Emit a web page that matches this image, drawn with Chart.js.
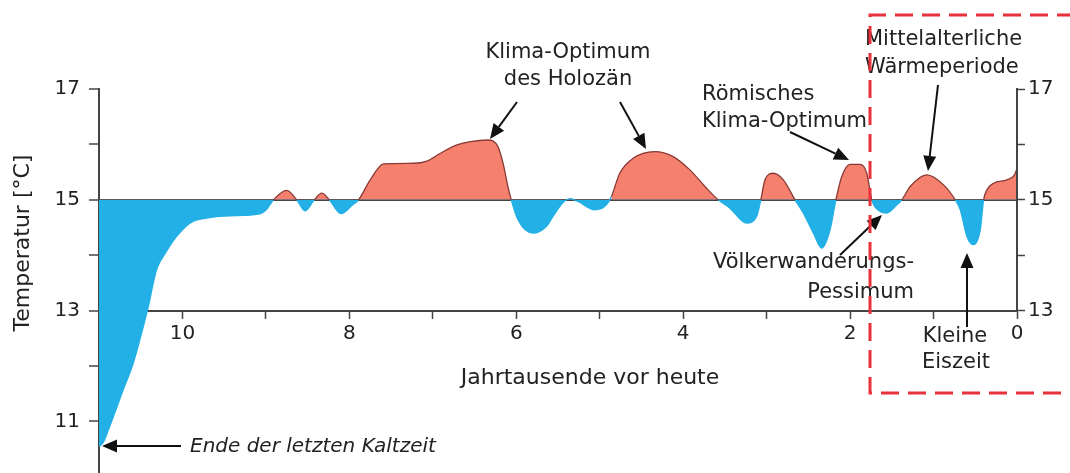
<!DOCTYPE html>
<html>
<head>
<meta charset="utf-8">
<script src="https://cdn.jsdelivr.net/npm/chart.js@4.4.1/dist/chart.umd.min.js"></script>
<style>
  html, body { margin: 0; padding: 0; background: #fff; }
  #wrap { width: 1070px; height: 473px; }
</style>
</head>
<body>
<div id="wrap"><canvas id="holozaen" width="1070" height="473"></canvas></div>
<script>
// Jahrtausende vor heute (x) und Temperatur in °C (y)
const kaVorHeute = [
  11.0, 10.95, 10.87, 10.71, 10.59, 10.47, 10.41, 10.31, 10.2, 10.07,
  9.91, 9.71, 9.43, 9.09, 8.99, 8.91, 8.75, 8.63, 8.53, 8.42,
  8.33, 8.24, 8.1, 7.96, 7.89, 7.75, 7.59, 7.23, 7.07, 6.91,
  6.71, 6.55, 6.34, 6.22, 6.16, 6.1, 6.06, 5.98, 5.8, 5.64,
  5.56, 5.44, 5.35, 5.26, 5.06, 4.92, 4.86, 4.76, 4.6, 4.34,
  4.12, 3.92, 3.72, 3.58, 3.44, 3.24, 3.12, 3.07, 3.02, 2.92,
  2.8, 2.66, 2.56, 2.44, 2.34, 2.24, 2.17, 2.1, 2.0, 1.88,
  1.8, 1.74, 1.64, 1.56, 1.44, 1.38, 1.28, 1.08, 0.88, 0.74,
  0.68, 0.6, 0.52, 0.44, 0.4, 0.36, 0.28, 0.12, 0.03, 0.0
];
const temperatur = [
  10.55, 10.62, 10.92, 11.57, 12.05, 12.71, 13.07, 13.74, 14.05, 14.34,
  14.58, 14.67, 14.71, 14.74, 14.83, 15.0, 15.17, 15.0, 14.8, 15.0,
  15.12, 15.0, 14.75, 14.91, 15.0, 15.36, 15.65, 15.66, 15.7, 15.84,
  15.99, 16.05, 16.08, 15.96, 15.67, 15.24, 15.0, 14.64, 14.4, 14.52,
  14.7, 14.95, 15.02, 14.97, 14.82, 14.91, 15.06, 15.48, 15.75, 15.87,
  15.78, 15.54, 15.21, 15.0, 14.85, 14.58, 14.7, 15.0, 15.36, 15.48,
  15.36, 15.0, 14.76, 14.4, 14.13, 14.46, 15.0, 15.42, 15.64, 15.64,
  15.48, 15.0, 14.79, 14.76, 14.91, 15.0, 15.24, 15.45, 15.27, 15.0,
  14.82, 14.34, 14.19, 14.46, 15.0, 15.18, 15.3, 15.36, 15.45, 15.57
];
const xTickLabels = [10, 8, 6, 4, 2, 0];
const yTickLabels = [11, 13, 15, 17];
const yRechtsLabels = [13, 15, 17];
const referenzwert = 15;

const ROT = '#F5806E';
const BLAU = '#22B0E6';
const KANTE = '#8a3a35';
const ACHSE = '#444';
const TEXT = '#222';
const FONT = '"DejaVu Sans", sans-serif';

const punkte = kaVorHeute.map((x, i) => ({ x: x, y: temperatur[i] }));

function pfeil(ctx, x1, y1, x2, y2) {
  const a = Math.atan2(y2 - y1, x2 - x1);
  const len = 15, halb = 6.5;
  const bx = x2 - len * Math.cos(a), by = y2 - len * Math.sin(a);
  ctx.beginPath();
  ctx.moveTo(x1, y1);
  ctx.lineTo(bx, by);
  ctx.lineWidth = 2;
  ctx.strokeStyle = '#111';
  ctx.stroke();
  ctx.beginPath();
  ctx.moveTo(x2, y2);
  ctx.lineTo(bx + halb * Math.sin(a), by - halb * Math.cos(a));
  ctx.lineTo(bx - halb * Math.sin(a), by + halb * Math.cos(a));
  ctx.closePath();
  ctx.fillStyle = '#111';
  ctx.fill();
}

function text(ctx, s, x, y, align, italic) {
  ctx.font = italic ? 'italic 20px ' + FONT : '21px ' + FONT;
  ctx.fillStyle = TEXT;
  ctx.textAlign = align;
  ctx.textBaseline = 'middle';
  ctx.fillText(s, x, y);
}

const beschriftung = {
  id: 'beschriftung',
  afterDraw(chart) {
    const ctx = chart.ctx;
    const yR = chart.scales.yR;
    ctx.save();

    // rechte Achse nur von 17 bis 13
    ctx.beginPath();
    ctx.moveTo(chart.chartArea.right, yR.getPixelForValue(17) - 1);
    ctx.lineTo(chart.chartArea.right, yR.getPixelForValue(13));
    ctx.lineWidth = 2;
    ctx.strokeStyle = ACHSE;
    ctx.stroke();

    // Achsentitel
    ctx.font = '22px ' + FONT;
    ctx.fillStyle = TEXT;
    ctx.textAlign = 'center';
    ctx.textBaseline = 'middle';
    ctx.fillText('Jahrtausende vor heute', 590, 378);
    ctx.save();
    ctx.translate(23, 243);
    ctx.rotate(-Math.PI / 2);
    ctx.fillText('Temperatur [°C]', 0, 0);
    ctx.restore();

    // Anmerkungen
    text(ctx, 'Klima-Optimum', 568, 53, 'center');
    text(ctx, 'des Holozän', 568, 80, 'center');
    pfeil(ctx, 517, 102, 490, 139);
    pfeil(ctx, 620, 102, 646, 149);

    text(ctx, 'Römisches', 702, 95, 'left');
    text(ctx, 'Klima-Optimum', 702, 122, 'left');
    pfeil(ctx, 790, 132, 849, 160);

    text(ctx, 'Mittelalterliche', 865, 40, 'left');
    text(ctx, 'Wärmeperiode', 865, 68, 'left');
    pfeil(ctx, 938, 85, 928, 171);

    text(ctx, 'Völkerwanderungs-', 914, 263, 'right');
    text(ctx, 'Pessimum', 914, 293, 'right');
    pfeil(ctx, 840, 255, 882, 215);

    text(ctx, 'Kleine', 955, 337, 'center');
    text(ctx, 'Eiszeit', 956, 363, 'center');
    pfeil(ctx, 967, 327, 967, 253);

    text(ctx, 'Ende der letzten Kaltzeit', 190, 447, 'left', true);
    pfeil(ctx, 181, 446, 102, 446);

    // rot gestrichelter Rahmen
    ctx.beginPath();
    ctx.setLineDash([18, 9]);
    ctx.lineWidth = 3;
    ctx.strokeStyle = '#E8313A';
    ctx.moveTo(1075, 15);
    ctx.lineTo(870, 15);
    ctx.lineTo(870, 393);
    ctx.lineTo(1075, 393);
    ctx.stroke();

    ctx.restore();
  }
};

new Chart(document.getElementById('holozaen').getContext('2d'), {
  type: 'line',
  data: {
    datasets: [{
      data: punkte,
      borderWidth: 1.3,
      borderColor: KANTE,
      segment: {
        borderColor: c => (c.p0.parsed.y >= referenzwert && c.p1.parsed.y >= referenzwert) ? KANTE : BLAU
      },
      pointRadius: 0,
      cubicInterpolationMode: 'monotone',
      fill: { target: { value: referenzwert }, above: ROT, below: BLAU }
    }]
  },
  plugins: [beschriftung],
  options: {
    responsive: false,
    animation: false,
    devicePixelRatio: 1,
    layout: { padding: { top: 89, bottom: 0, left: 0, right: 0 } },
    plugins: { legend: { display: false }, tooltip: { enabled: false } },
    scales: {
      x: {
        type: 'linear',
        reverse: true,
        min: 0,
        max: 11,
        position: { y: 13 },
        z: 1,
        afterFit: s => { s.paddingTop = 0; s.paddingBottom = 0; },
        border: { color: ACHSE, width: 2 },
        grid: { drawOnChartArea: false, tickLength: 7, tickColor: ACHSE, tickWidth: 1.5 },
        ticks: {
          stepSize: 1,
          autoSkip: false,
          maxRotation: 0,
          includeBounds: false,
          padding: 4,
          color: TEXT,
          font: { family: FONT, size: 20 },
          callback: v => xTickLabels.includes(v) ? String(v) : ''
        }
      },
      y: {
        position: 'left',
        min: 10.07,
        max: 17,
        z: 1,
        afterFit: s => { s.width = 99; s.paddingTop = 0; s.paddingBottom = 0; },
        border: { color: ACHSE, width: 2 },
        grid: {
          color: c => (c.tick && c.tick.value === referenzwert) ? ACHSE : 'rgba(0,0,0,0)',
          lineWidth: 2,
          tickColor: ACHSE,
          tickLength: 10,
          tickWidth: 1.5
        },
        ticks: {
          stepSize: 1,
          autoSkip: false,
          includeBounds: false,
          padding: 9,
          color: TEXT,
          font: { family: FONT, size: 20 },
          callback: v => yTickLabels.includes(v) ? String(v) : ''
        }
      },
      yR: {
        position: 'right',
        min: 10.07,
        max: 17,
        afterFit: s => { s.width = 53; s.paddingTop = 0; s.paddingBottom = 0; },
        afterBuildTicks: s => { s.ticks = s.ticks.filter(t => t.value >= 13); },
        border: { display: false },
        grid: { drawOnChartArea: false, tickColor: ACHSE, tickLength: 8, tickWidth: 1.5 },
        ticks: {
          stepSize: 1,
          autoSkip: false,
          includeBounds: false,
          padding: 3,
          color: TEXT,
          font: { family: FONT, size: 20 },
          callback: v => yRechtsLabels.includes(v) ? String(v) : ''
        }
      }
    }
  }
});
</script>
</body>
</html>
